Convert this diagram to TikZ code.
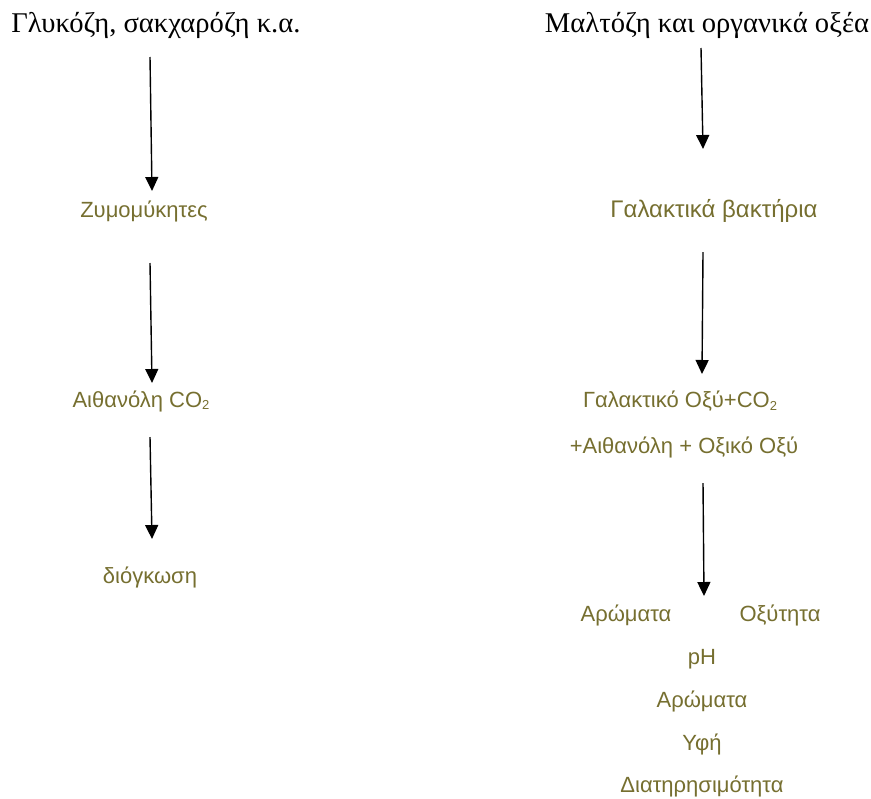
\documentclass[tikz,border=0pt]{standalone}
\usepackage{fontspec}
\setmainfont{Liberation Serif}
\newfontfamily\arialgr{Liberation Sans}
\usepackage{xcolor}
\usetikzlibrary{arrows.meta}
\definecolor{olive}{RGB}{118,111,48}
\newcommand{\subtwo}{\raisebox{-0.25ex}{\fontsize{6.5}{7}\selectfont 2}}

\begin{document}
\begin{tikzpicture}[x=0.5pt,y=-0.5pt]
\tikzset{
  title/.style={inner sep=0pt,font=\fontsize{14.3}{17}\selectfont},
  item/.style={inner sep=0pt,text=olive,font=\arialgr\fontsize{11}{13}\selectfont},
  flow/.style={line width=0.7pt,-{Triangle[length=7pt,width=6.5pt]}}
}
\useasboundingbox (0,0) rectangle (871,798);

\node[title] (g) at (156,25) {Γλυκόζη, σακχαρόζη κ.α.};
\node[title] (m) at (707,25) {Μαλτόζη και οργανικά οξέα};

% left column
\node[item] (1) at (144,211) {Ζυμομύκητες};
\node[item] (2) at (141,401) {Αιθανόλη CO\subtwo};
\node[item] (3) at (150,577) {διόγκωση};

% right column
\node[item] (4) at (714,211) {\fontsize{12}{14}\selectfont Γαλακτικά βακτήρια};
\node[item] (5) at (680,401) {Γαλακτικό Οξύ+CO\subtwo};
\node[item] (6) at (684,447) {+Αιθανόλη + Οξικό Οξύ};
\node[item] (7) at (626,615) {Αρώματα};
\node[item] (8) at (780,615) {Οξύτητα};
\node[item] (9) at (702,659) {pH};
\node[item] (10) at (702,701) {Αρώματα};
\node[item] (11) at (702,744) {Υφή};
\node[item] (12) at (702,786) {Διατηρησιμότητα};

\coordinate (a1) at (150,57);  \coordinate (b1) at (152,191);
\coordinate (a2) at (150,263); \coordinate (b2) at (152,383);
\coordinate (a3) at (150,437); \coordinate (b3) at (152,539);
\coordinate (a4) at (701,48);  \coordinate (b4) at (703,149);
\coordinate (a5) at (703,252); \coordinate (b5) at (702,374);
\coordinate (a6) at (703,483); \coordinate (b6) at (704,596);

\draw[flow] (a1) -- (b1);
\draw[flow] (a2) -- (b2);
\draw[flow] (a3) -- (b3);
\draw[flow] (a4) -- (b4);
\draw[flow] (a5) -- (b5);
\draw[flow] (a6) -- (b6);
\end{tikzpicture}
\end{document}
